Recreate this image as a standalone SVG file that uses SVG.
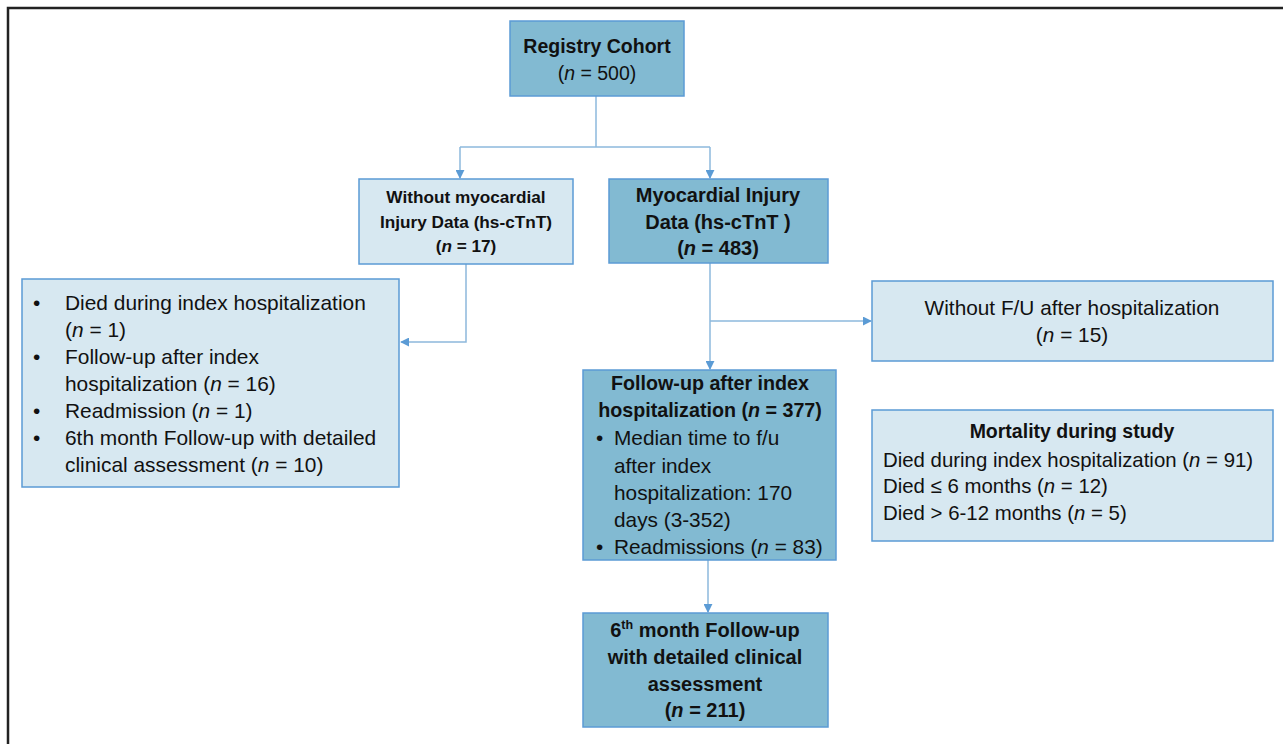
<svg xmlns="http://www.w3.org/2000/svg" width="1283" height="744" viewBox="0 0 1283 744">
<style>
.dark{fill:#82bad2;stroke:#5b9bd5;stroke-width:1.5}
.light{fill:#d7e8f1;stroke:#5b9bd5;stroke-width:1.5}
text{font-family:"Liberation Sans",Arial,sans-serif;fill:#111}
.b{font-weight:bold}
.c{text-anchor:middle}
.con{fill:none;stroke:#8db8dc;stroke-width:1.5}
</style>
<defs>
<marker id="ah" viewBox="0 0 10 10" refX="9" refY="5" markerWidth="9" markerHeight="9" markerUnits="userSpaceOnUse" orient="auto">
<path d="M0,0 L10,5 L0,10 z" fill="#5b9bd5"/>
</marker>
</defs>
<rect x="0" y="0" width="1283" height="744" fill="#fff"/>
<path d="M8,760 L8,8 L1300,8" fill="none" stroke="#222" stroke-width="2.5"/>

<g id="connectors">
<path class="con" d="M596,96 V147"/>
<path class="con" d="M460,147 H710"/>
<path class="con" d="M460,147 V178" marker-end="url(#ah)"/>
<path class="con" d="M710,147 V178" marker-end="url(#ah)"/>
<path class="con" d="M466,264 V342 H401" marker-end="url(#ah)"/>
<path class="con" d="M710,263 V369" marker-end="url(#ah)"/>
<path class="con" d="M710,321 H871" marker-end="url(#ah)"/>
<path class="con" d="M708,560 V612" marker-end="url(#ah)"/>
</g>

<g id="registry">
<rect class="dark" x="510" y="21" width="174" height="75"/>
<text class="b c" x="597" y="53" font-size="19.5">Registry Cohort</text>
<text class="c" x="597" y="80" font-size="19.5">(<tspan font-style="italic">n</tspan> = 500)</text>
</g>

<g id="without-injury">
<rect class="light" x="359" y="179" width="214" height="85"/>
<text class="b c" x="466" y="203" font-size="17.2">Without myocardial</text>
<text class="b c" x="466" y="228" font-size="17.2">Injury Data (hs-cTnT)</text>
<text class="b c" x="466" y="252" font-size="17.2">(<tspan font-style="italic">n</tspan> = 17)</text>
</g>

<g id="injury">
<rect class="dark" x="609" y="179" width="219" height="84"/>
<text class="b c" x="718" y="202" font-size="20">Myocardial Injury</text>
<text class="b c" x="718" y="229" font-size="20">Data (hs-cTnT )</text>
<text class="b c" x="718" y="255" font-size="20">(<tspan font-style="italic">n</tspan> = 483)</text>
</g>

<g id="left-list">
<rect class="light" x="22" y="279" width="377" height="208"/>
<g font-size="20.9">
<text x="33" y="310">•</text>
<text x="65" y="310">Died during index hospitalization</text>
<text x="65" y="337">(<tspan font-style="italic">n</tspan> = 1)</text>
<text x="33" y="364">•</text>
<text x="65" y="364">Follow-up after index</text>
<text x="65" y="391">hospitalization (<tspan font-style="italic">n</tspan> = 16)</text>
<text x="33" y="418">•</text>
<text x="65" y="418">Readmission (<tspan font-style="italic">n</tspan> = 1)</text>
<text x="33" y="445">•</text>
<text x="65" y="445">6th month Follow-up with detailed</text>
<text x="65" y="472">clinical assessment (<tspan font-style="italic">n</tspan> = 10)</text>
</g>
</g>

<g id="without-fu">
<rect class="light" x="872" y="281" width="401" height="80"/>
<text class="c" x="1072" y="315" font-size="20.8">Without F/U after hospitalization</text>
<text class="c" x="1072" y="342" font-size="20.8">(<tspan font-style="italic">n</tspan> = 15)</text>
</g>

<g id="followup">
<rect class="dark" x="583" y="370" width="253" height="190"/>
<text class="b c" x="710" y="390" font-size="19.7">Follow-up after index</text>
<text class="b c" x="710" y="417" font-size="19.7">hospitalization (<tspan font-style="italic">n</tspan> = 377)</text>
<g font-size="20.8">
<text x="596" y="445">•</text>
<text x="614" y="445">Median time to f/u</text>
<text x="614" y="473">after index</text>
<text x="614" y="500">hospitalization: 170</text>
<text x="614" y="527">days (3-352)</text>
<text x="596" y="554">•</text>
<text x="614" y="554">Readmissions (<tspan font-style="italic">n</tspan> = 83)</text>
</g>
</g>

<g id="mortality">
<rect class="light" x="872" y="410" width="401" height="131"/>
<text class="b c" x="1072" y="438" font-size="19.5">Mortality during study</text>
<g font-size="20.4">
<text x="883" y="467">Died during index hospitalization (<tspan font-style="italic">n</tspan> = 91)</text>
<text x="883" y="493">Died ≤ 6 months (<tspan font-style="italic">n</tspan> = 12)</text>
<text x="883" y="520">Died &gt; 6-12 months (<tspan font-style="italic">n</tspan> = 5)</text>
</g>
</g>

<g id="sixth-month">
<rect class="dark" x="583" y="613" width="245" height="114"/>
<g font-size="20">
<text class="b c" x="705" y="637">6<tspan font-size="12.5" dy="-8">th</tspan><tspan dy="8"> month Follow-up</tspan></text>
<text class="b c" x="705" y="664">with detailed clinical</text>
<text class="b c" x="705" y="691">assessment</text>
<text class="b c" x="705" y="717">(<tspan font-style="italic">n</tspan> = 211)</text>
</g>
</g>
</svg>
